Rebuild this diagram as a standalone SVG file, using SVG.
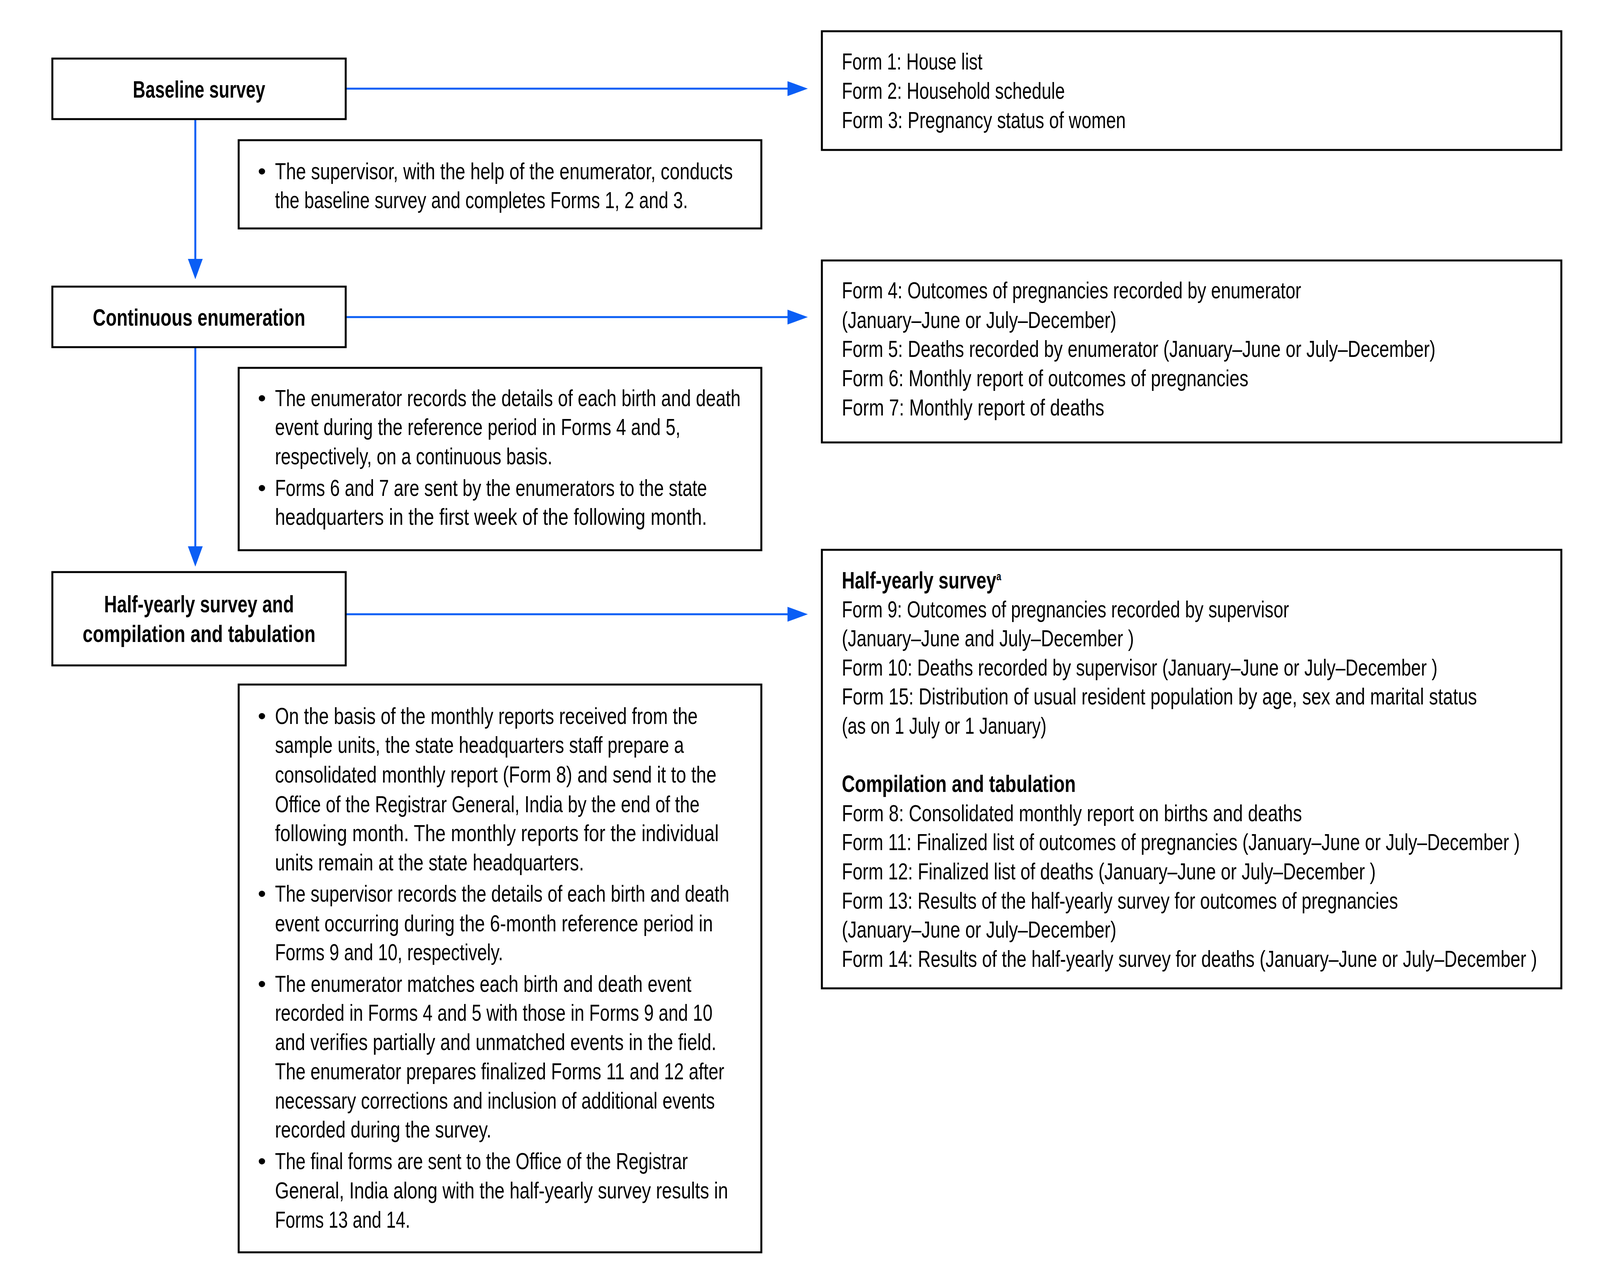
<svg xmlns="http://www.w3.org/2000/svg" width="4157" height="3283" viewBox="0 0 4157 3283">
<style>
.box{fill:#fff;stroke:#000;stroke-width:5}
.t{font-family:"Liberation Sans Narrow","Liberation Sans",Arial,sans-serif;font-size:60px;fill:#000}
.b{font-weight:bold;font-size:62px}
.m{text-anchor:middle}
.conn{stroke:#0A5EF5;stroke-width:5;fill:none;marker-end:url(#ah)}
</style>
<defs>
<marker id="ah" markerUnits="userSpaceOnUse" viewBox="0 0 52 38" refX="12" refY="19" markerWidth="52" markerHeight="38" orient="auto">
<path d="M0,0 L52,19 L0,38 Z" fill="#0A5EF5"/>
</marker>
</defs>
<rect x="0" y="0" width="4157" height="3283" fill="#fff"/>
<g id="connectors">
<line class="conn" x1="885" y1="227" x2="2028" y2="227"/>
<line class="conn" x1="885" y1="812" x2="2028" y2="812"/>
<line class="conn" x1="885" y1="1573" x2="2028" y2="1573"/>
<line class="conn" x1="500" y1="305" x2="500" y2="675"/>
<line class="conn" x1="500" y1="889" x2="500" y2="1411"/>
</g>
<g id="baseline-survey">
<rect class="box" x="134" y="150" width="751" height="155"/>
<text class="t b m" x="509.5" y="250" textLength="339" lengthAdjust="spacingAndGlyphs">Baseline survey</text>
</g>
<g id="continuous-enumeration">
<rect class="box" x="134" y="734" width="751" height="155"/>
<text class="t b m" x="509.5" y="834" textLength="544" lengthAdjust="spacingAndGlyphs">Continuous enumeration</text>
</g>
<g id="half-yearly">
<rect class="box" x="134" y="1465" width="751" height="239"/>
<text class="t b m" x="509.5" y="1568" textLength="486" lengthAdjust="spacingAndGlyphs">Half-yearly survey and</text>
<text class="t b m" x="509.5" y="1644" textLength="596" lengthAdjust="spacingAndGlyphs">compilation and tabulation</text>
</g>
<g id="desc-baseline">
<rect class="box" x="611" y="359" width="1338" height="226"/>
<text class="t" x="660" y="459">•</text>
<text class="t" x="704" y="459" textLength="1172" lengthAdjust="spacingAndGlyphs">The supervisor, with the help of the enumerator, conducts</text>
<text class="t" x="704" y="533" textLength="1057" lengthAdjust="spacingAndGlyphs">the baseline survey and completes Forms 1, 2 and 3.</text>
</g>
<g id="desc-continuous">
<rect class="box" x="611" y="942" width="1338" height="467"/>
<text class="t" x="660" y="1040">•</text>
<text class="t" x="704" y="1040" textLength="1192" lengthAdjust="spacingAndGlyphs">The enumerator records the details of each birth and death</text>
<text class="t" x="704" y="1114" textLength="1038" lengthAdjust="spacingAndGlyphs">event during the reference period in Forms 4 and 5,</text>
<text class="t" x="704" y="1189" textLength="710" lengthAdjust="spacingAndGlyphs">respectively, on a continuous basis.</text>
<text class="t" x="660" y="1270">•</text>
<text class="t" x="704" y="1270" textLength="1106" lengthAdjust="spacingAndGlyphs">Forms 6 and 7 are sent by the enumerators to the state</text>
<text class="t" x="704" y="1344" textLength="1106" lengthAdjust="spacingAndGlyphs">headquarters in the first week of the following month.</text>
</g>
<g id="desc-half-yearly">
<rect class="box" x="611" y="1753" width="1338" height="1454"/>
<text class="t" x="660" y="1854">•</text>
<text class="t" x="704" y="1854" textLength="1082" lengthAdjust="spacingAndGlyphs">On the basis of the monthly reports received from the</text>
<text class="t" x="704" y="1928" textLength="1047" lengthAdjust="spacingAndGlyphs">sample units, the state headquarters staff prepare a</text>
<text class="t" x="704" y="2004" textLength="1130" lengthAdjust="spacingAndGlyphs">consolidated monthly report (Form 8) and send it to the</text>
<text class="t" x="704" y="2080" textLength="1087" lengthAdjust="spacingAndGlyphs">Office of the Registrar General, India by the end of the</text>
<text class="t" x="704" y="2154" textLength="1136" lengthAdjust="spacingAndGlyphs">following month. The monthly reports for the individual</text>
<text class="t" x="704" y="2229" textLength="791" lengthAdjust="spacingAndGlyphs">units remain at the state headquarters.</text>
<text class="t" x="660" y="2309">•</text>
<text class="t" x="704" y="2309" textLength="1163" lengthAdjust="spacingAndGlyphs">The supervisor records the details of each birth and death</text>
<text class="t" x="704" y="2385" textLength="1121" lengthAdjust="spacingAndGlyphs">event occurring during the 6-month reference period in</text>
<text class="t" x="704" y="2459" textLength="584" lengthAdjust="spacingAndGlyphs">Forms 9 and 10, respectively.</text>
<text class="t" x="660" y="2540">•</text>
<text class="t" x="704" y="2540" textLength="1066" lengthAdjust="spacingAndGlyphs">The enumerator matches each birth and death event</text>
<text class="t" x="704" y="2614" textLength="1120" lengthAdjust="spacingAndGlyphs">recorded in Forms 4 and 5 with those in Forms 9 and 10</text>
<text class="t" x="704" y="2689" textLength="1130" lengthAdjust="spacingAndGlyphs">and verifies partially and unmatched events in the field.</text>
<text class="t" x="704" y="2764" textLength="1150" lengthAdjust="spacingAndGlyphs">The enumerator prepares finalized Forms 11 and 12 after</text>
<text class="t" x="704" y="2839" textLength="1126" lengthAdjust="spacingAndGlyphs">necessary corrections and inclusion of additional events</text>
<text class="t" x="704" y="2913" textLength="554" lengthAdjust="spacingAndGlyphs">recorded during the survey.</text>
<text class="t" x="660" y="2994">•</text>
<text class="t" x="704" y="2994" textLength="1057" lengthAdjust="spacingAndGlyphs">The final forms are sent to the Office of the Registrar</text>
<text class="t" x="704" y="3069" textLength="1160" lengthAdjust="spacingAndGlyphs">General, India along with the half-yearly survey results in</text>
<text class="t" x="704" y="3144" textLength="346" lengthAdjust="spacingAndGlyphs">Forms 13 and 14.</text>
</g>
<g id="forms-baseline">
<rect class="box" x="2104" y="80" width="1893" height="304"/>
<text class="t" x="2155" y="178" textLength="360" lengthAdjust="spacingAndGlyphs">Form 1: House list</text>
<text class="t" x="2155" y="253" textLength="571" lengthAdjust="spacingAndGlyphs">Form 2: Household schedule</text>
<text class="t" x="2155" y="328" textLength="727" lengthAdjust="spacingAndGlyphs">Form 3: Pregnancy status of women</text>
</g>
<g id="forms-continuous">
<rect class="box" x="2104" y="667" width="1893" height="466"/>
<text class="t" x="2155" y="764" textLength="1176" lengthAdjust="spacingAndGlyphs">Form 4: Outcomes of pregnancies recorded by enumerator</text>
<text class="t" x="2155" y="840" textLength="703" lengthAdjust="spacingAndGlyphs">(January–June or July–December)</text>
<text class="t" x="2155" y="914" textLength="1520" lengthAdjust="spacingAndGlyphs">Form 5: Deaths recorded by enumerator (January–June or July–December)</text>
<text class="t" x="2155" y="989" textLength="1041" lengthAdjust="spacingAndGlyphs">Form 6: Monthly report of outcomes of pregnancies</text>
<text class="t" x="2155" y="1064" textLength="672" lengthAdjust="spacingAndGlyphs">Form 7: Monthly report of deaths</text>
</g>
<g id="forms-half-yearly">
<rect class="box" x="2104" y="1408" width="1893" height="1123"/>
<text class="t b" x="2155" y="1507" textLength="408" lengthAdjust="spacingAndGlyphs">Half-yearly survey<tspan dy="-21" style="font-size:30px">a</tspan></text>
<text class="t" x="2155" y="1581" textLength="1145" lengthAdjust="spacingAndGlyphs">Form 9: Outcomes of pregnancies recorded by supervisor</text>
<text class="t" x="2155" y="1655" textLength="748" lengthAdjust="spacingAndGlyphs">(January–June and July–December )</text>
<text class="t" x="2155" y="1730" textLength="1525" lengthAdjust="spacingAndGlyphs">Form 10: Deaths recorded by supervisor (January–June or July–December )</text>
<text class="t" x="2155" y="1804" textLength="1626" lengthAdjust="spacingAndGlyphs">Form 15: Distribution of usual resident population by age, sex and marital status</text>
<text class="t" x="2155" y="1879" textLength="524" lengthAdjust="spacingAndGlyphs">(as on 1 July or 1 January)</text>
<text class="t b" x="2155" y="2028" textLength="599" lengthAdjust="spacingAndGlyphs">Compilation and tabulation</text>
<text class="t" x="2155" y="2103" textLength="1178" lengthAdjust="spacingAndGlyphs">Form 8: Consolidated monthly report on births and deaths</text>
<text class="t" x="2155" y="2177" textLength="1736" lengthAdjust="spacingAndGlyphs">Form 11: Finalized list of outcomes of pregnancies (January–June or July–December )</text>
<text class="t" x="2155" y="2252" textLength="1367" lengthAdjust="spacingAndGlyphs">Form 12: Finalized list of deaths (January–June or July–December )</text>
<text class="t" x="2155" y="2327" textLength="1424" lengthAdjust="spacingAndGlyphs">Form 13: Results of the half-yearly survey for outcomes of pregnancies</text>
<text class="t" x="2155" y="2401" textLength="703" lengthAdjust="spacingAndGlyphs">(January–June or July–December)</text>
<text class="t" x="2155" y="2476" textLength="1780" lengthAdjust="spacingAndGlyphs">Form 14: Results of the half-yearly survey for deaths (January–June or July–December )</text>
</g>
</svg>
